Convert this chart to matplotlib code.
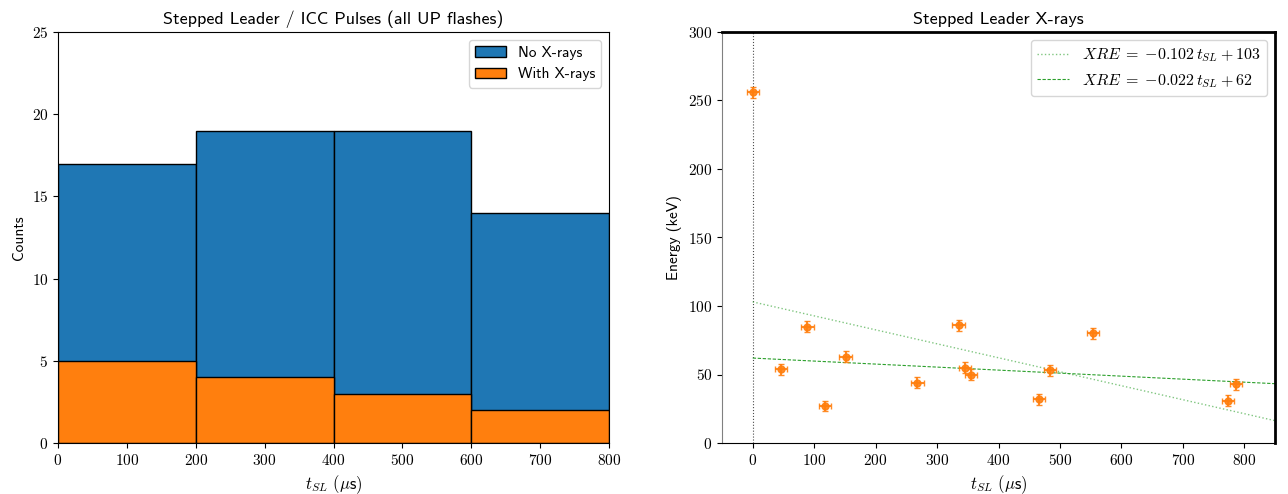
import numpy as np
import matplotlib
matplotlib.use("Agg")
import matplotlib.pyplot as plt
from matplotlib.ticker import FuncFormatter

plt.rcParams["font.family"] = ["cmss10", "DejaVu Sans"]
plt.rcParams["mathtext.fontset"] = "cm"
plt.rcParams["axes.unicode_minus"] = False
plt.rcParams["axes.formatter.use_mathtext"] = True

# histogram data (bins in microseconds)
bin_edges = [0, 200, 400, 600, 800]
total_counts = [17, 19, 19, 14]
xray_counts = [5, 4, 3, 2]

# stepped leader X-ray energies
t_sl = [0, 46, 89, 118, 151, 268, 335, 346, 355, 466, 484, 554, 774, 786]
energy = [256, 54, 85, 27, 63, 44, 86, 55, 50, 32, 53, 80, 31, 43]
t_err = 10
e_err = 4

# linear fits
fit_slopes = [-0.102, -0.022]
fit_intercepts = [103, 62]

mathfmt = FuncFormatter(lambda v, p: r"$%g$" % v)

fig = plt.figure(figsize=(12.88, 4.94), dpi=100)
ax1 = fig.add_axes([58 / 1288, 1 - 443 / 494, 551 / 1288, 411 / 494])
ax2 = fig.add_axes([722 / 1288, 1 - 443 / 494, 553 / 1288, 411 / 494])

# left panel
lefts = bin_edges[:-1]
widths = np.diff(bin_edges)
ax1.bar(lefts, total_counts, width=widths, align="edge", color="#1f77b4",
        edgecolor="black", linewidth=1, label="No X-rays")
ax1.bar(lefts, xray_counts, width=widths, align="edge", color="#ff7f0e",
        edgecolor="black", linewidth=1, label="With X-rays")
ax1.set_xlim(0, 800)
ax1.set_ylim(0, 25)
ax1.set_yticks(range(0, 26, 5))
ax1.set_xticks(range(0, 801, 100))
ax1.xaxis.set_major_formatter(mathfmt)
ax1.yaxis.set_major_formatter(mathfmt)
ax1.set_title("Stepped Leader / ICC Pulses (all UP flashes)", fontsize=13)
ax1.set_ylabel("Counts", fontsize=11)
ax1.set_xlabel(r"$t_{SL}$ $(\mu$s$)$", fontsize=12)
ax1.legend(loc="upper right", fontsize=11)

# right panel
ax2.axvline(0, color="black", linestyle=":", linewidth=0.8, alpha=0.7)
xs = np.array([0, 850])
ax2.plot(xs, fit_slopes[0] * xs + fit_intercepts[0], linestyle=":",
         color="#2ca02c", alpha=0.6, linewidth=1,
         label=r"$XRE\;=\;{%.3f}\,t_{SL} + %d$" % (fit_slopes[0], fit_intercepts[0]))
ax2.plot(xs, fit_slopes[1] * xs + fit_intercepts[1], linestyle="--",
         color="#2ca02c", linewidth=0.8, dashes=(3, 1.5),
         label=r"$XRE\;=\;{%.3f}\,t_{SL} + %d$" % (fit_slopes[1], fit_intercepts[1]))
ax2.errorbar(t_sl, energy, xerr=t_err, yerr=e_err, fmt="o", color="#ff7f0e",
             ms=5, ecolor="#ff7f0e", elinewidth=1.5, capsize=2.5, alpha=0.9)
ax2.set_xlim(-50, 850)
ax2.set_ylim(0, 300)
ax2.set_xticks(range(0, 801, 100))
ax2.set_yticks(range(0, 301, 50))
ax2.xaxis.set_major_formatter(mathfmt)
ax2.yaxis.set_major_formatter(mathfmt)
ax2.spines["top"].set_linewidth(2)
ax2.spines["right"].set_linewidth(2)
ax2.spines["left"].set_color("grey")
ax2.set_title("Stepped Leader X-rays", fontsize=13)
ax2.set_ylabel("Energy (keV)", fontsize=11)
ax2.set_xlabel(r"$t_{SL}$ $(\mu$s$)$", fontsize=12)
ax2.legend(loc="upper right", fontsize=11.5)

for ax in (ax1, ax2):
    ax.tick_params(labelsize=11)

fig.savefig("out.png", dpi=100)
